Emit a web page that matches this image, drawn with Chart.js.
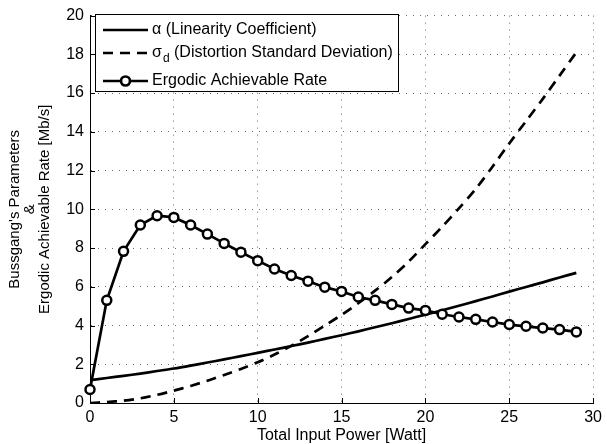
<!DOCTYPE html>
<html>
<head>
<meta charset="utf-8">
<script src="https://cdn.jsdelivr.net/npm/chart.js@4.4.1/dist/chart.umd.min.js"></script>
<style>
  html, body { margin: 0; padding: 0; background: #fff; }
  #c { display: block; }
</style>
</head>
<body>
<canvas id="c" width="607" height="444"></canvas>
<script>
// values
const power = [0, 1, 2, 3, 4, 5, 6, 7, 8, 9, 10, 11, 12, 13, 14, 15, 16, 17, 18, 19, 20, 21, 22, 23, 24, 25, 26, 27, 28, 29];
const rate = [0.70, 5.30, 7.83, 9.19, 9.67, 9.58, 9.19, 8.72, 8.24, 7.78, 7.35, 6.92, 6.58, 6.29, 5.98, 5.76, 5.47, 5.30, 5.09, 4.90,
  4.78, 4.58, 4.44, 4.32, 4.18, 4.05, 3.96, 3.87, 3.79, 3.67];
const alpha = [1.18, 1.29, 1.40, 1.52, 1.65, 1.78, 1.93, 2.09, 2.25, 2.42, 2.59, 2.76, 2.94, 3.12, 3.31, 3.50, 3.70, 3.91, 4.12, 4.34,
  4.56, 4.79, 5.02, 5.26, 5.50, 5.75, 5.99, 6.23, 6.48, 6.72];
const sigma = [0.00, 0.05, 0.12, 0.24, 0.42, 0.64, 0.88, 1.15, 1.45, 1.76, 2.10, 2.50, 2.95, 3.45, 4.00, 4.55, 5.15, 5.80, 6.50, 7.30,
  8.20, 9.10, 10.05, 11.05, 12.20, 13.40, 14.55, 15.70, 16.90, 18.10];
const xTicks = [0, 5, 10, 15, 20, 25, 30];
const yTicks = [0, 2, 4, 6, 8, 10, 12, 14, 16, 18, 20];

const FONT = "'Liberation Sans', Arial, sans-serif";
const FS = 16;
const LW = 2.7;

function pts(ys) {
  return power.map((p, i) => ({ x: p, y: ys[i] }));
}

// small ticks pointing into the plot, like MATLAB
const inwardTicks = {
  id: 'inwardTicks',
  beforeDatasetsDraw(chart) {
    const { ctx, chartArea: a, scales: { x, y } } = chart;
    ctx.save();
    ctx.strokeStyle = '#000';
    ctx.lineWidth = 1;
    ctx.beginPath();
    xTicks.forEach(v => {
      const px = Math.round(x.getPixelForValue(v)) + 0.5;
      ctx.moveTo(px, a.bottom);
      ctx.lineTo(px, a.bottom - 5);
    });
    yTicks.forEach(v => {
      const py = Math.round(y.getPixelForValue(v)) + 0.5;
      ctx.moveTo(a.left, py);
      ctx.lineTo(a.left + 5, py);
    });
    ctx.stroke();
    ctx.restore();
  }
};

// legend box in the top-left corner of the axes
const boxLegend = {
  id: 'boxLegend',
  afterDatasetsDraw(chart) {
    const { ctx } = chart;
    const bx = 95, by = 14, bw = 303, bh = 77;
    ctx.save();
    ctx.fillStyle = '#fff';
    ctx.fillRect(bx, by, bw, bh);
    ctx.strokeStyle = '#000';
    ctx.lineWidth = 1;
    ctx.strokeRect(bx + 0.5, by + 0.5, bw, bh);

    const x0 = 103, x1 = 148, tx = 152;
    const rows = [30, 53, 81];
    ctx.lineWidth = LW;
    ctx.lineCap = 'butt';

    ctx.beginPath();
    ctx.moveTo(x0, rows[0]); ctx.lineTo(x1, rows[0]);
    ctx.stroke();

    ctx.setLineDash([10, 7]);
    ctx.beginPath();
    ctx.moveTo(x0, rows[1]); ctx.lineTo(x1, rows[1]);
    ctx.stroke();
    ctx.setLineDash([]);

    ctx.beginPath();
    ctx.moveTo(x0, rows[2]); ctx.lineTo(x1, rows[2]);
    ctx.stroke();
    ctx.beginPath();
    ctx.arc((x0 + x1) / 2, rows[2], 4.5, 0, Math.PI * 2);
    ctx.fillStyle = '#fff';
    ctx.fill();
    ctx.stroke();

    ctx.fillStyle = '#000';
    ctx.textBaseline = 'middle';
    ctx.textAlign = 'left';
    ctx.font = FS + 'px ' + FONT;
    ctx.fillText('\u03b1 (Linearity Coefficient)', tx, rows[0]);
    ctx.fillText('\u03c3', tx, rows[1]);
    const w = ctx.measureText('\u03c3').width;
    ctx.font = '12px ' + FONT;
    ctx.fillText('d', tx + w + 1, rows[1] + 6);
    const wd = ctx.measureText('d').width;
    ctx.font = FS + 'px ' + FONT;
    ctx.fillText(' (Distortion Standard Deviation)', tx + w + 1 + wd, rows[1]);
    ctx.fillText('Ergodic Achievable Rate', tx, rows[2]);
    ctx.restore();
  }
};

const gridStyle = {
  color: '#6a6a6a',
  lineWidth: 1,
  drawTicks: false
};

new Chart(document.getElementById('c'), {
  type: 'line',
  data: {
    datasets: [
      {
        label: 'Ergodic Achievable Rate',
        data: pts(rate),
        borderColor: '#000',
        borderWidth: LW,
        pointRadius: 4.5,
        pointBorderWidth: 2.5,
        pointBackgroundColor: '#fff',
        pointBorderColor: '#000',
        tension: 0,
        clip: false,
        order: 0
      },
      {
        label: '\u03b1 (Linearity Coefficient)',
        data: pts(alpha),
        borderColor: '#000',
        borderWidth: LW,
        pointRadius: 0,
        tension: 0.3,
        order: 1
      },
      {
        label: '\u03c3d (Distortion Standard Deviation)',
        data: pts(sigma),
        borderColor: '#000',
        borderWidth: LW,
        borderDash: [10, 7],
        pointRadius: 0,
        tension: 0.3,
        order: 2
      }
    ]
  },
  options: {
    responsive: false,
    animation: false,
    events: [],
    layout: { padding: { left: 0, top: 14, right: 11, bottom: 0 } },
    plugins: {
      legend: { display: false },
      tooltip: { enabled: false }
    },
    scales: {
      x: {
        type: 'linear',
        min: 0,
        max: 30,
        afterFit(s) { s.height = 41; },
        afterBuildTicks(s) { s.ticks = xTicks.map(v => ({ value: v })); },
        grid: gridStyle,
        border: { display: true, color: '#000', width: 1, dash: [1, 6] },
        ticks: { color: '#000', padding: 5, maxRotation: 0, font: { family: FONT, size: FS, lineHeight: 1.2 } },
        title: {
          display: true,
          text: 'Total Input Power [Watt]',
          color: '#000',
          padding: { top: 0, bottom: 0 },
          font: { family: FONT, size: FS, lineHeight: 1.0 }
        }
      },
      y: {
        type: 'linear',
        min: 0,
        max: 20,
        afterFit(s) { s.width = 90; },
        afterBuildTicks(s) { s.ticks = yTicks.map(v => ({ value: v })); },
        grid: gridStyle,
        border: { display: true, color: '#000', width: 1, dash: [1, 6] },
        ticks: { color: '#000', padding: 6, font: { family: FONT, size: FS } },
        title: {
          display: true,
          text: ["Bussgang's Parameters", '&', 'Ergodic Achievable Rate [Mb/s]'],
          color: '#000',
          padding: { top: 8, bottom: 0 },
          font: { family: FONT, size: 15, lineHeight: 0.97 }
        }
      }
    }
  },
  plugins: [inwardTicks, boxLegend]
});
</script>
</body>
</html>
